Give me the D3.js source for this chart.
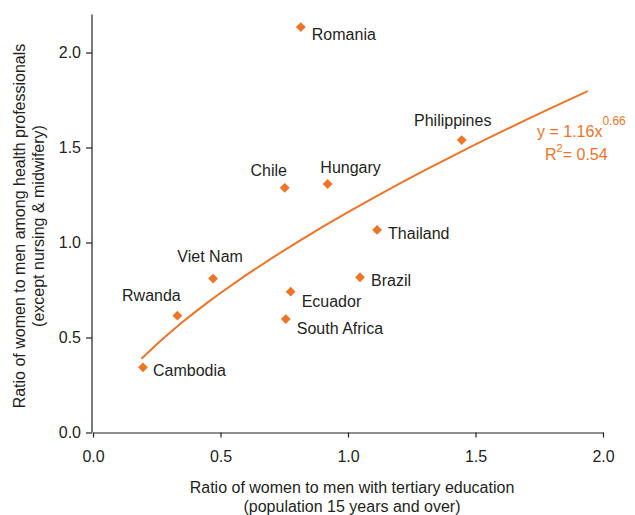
<!DOCTYPE html>
<html>
<head>
<meta charset="utf-8">
<script src="https://cdn.jsdelivr.net/npm/d3@7"></script>
<style>
  html, body { margin: 0; padding: 0; background: #fff; }
  svg text { font-family: "Liberation Sans", Arial, Helvetica, sans-serif; }
</style>
</head>
<body>
<svg id="chart" width="635" height="515"></svg>
<script>
// Countries and their ratios (women : men)
const countries = ["Romania", "Chile", "Hungary", "Philippines", "Thailand", "Viet Nam",
                   "Rwanda", "Cambodia", "Ecuador", "South Africa", "Brazil"];
const tertiaryRatio = [0.815, 0.752, 0.920, 1.446, 1.114, 0.471, 0.331, 0.196, 0.775, 0.756, 1.047];
const healthRatio   = [2.134, 1.288, 1.308, 1.539, 1.066, 0.810, 0.615, 0.343, 0.741, 0.597, 0.817];

// Power trend line y = a * x^b, as stated in the label
const trendA = 1.16;
const trendB = 0.66;
const trendR2 = 0.54;
const trendXs = [0.19, 0.25, 0.3, 0.35, 0.4, 0.45, 0.5, 0.6, 0.7, 0.8, 0.9, 1.0, 1.1, 1.2,
                 1.3, 1.4, 1.5, 1.6, 1.7, 1.8, 1.9, 1.94];

const xTicks = [0, 0.5, 1.0, 1.5, 2.0];
const yTicks = [0, 0.5, 1.0, 1.5, 2.0];

// Label placement relative to each marker (baseline offsets): [dx, dy, anchor]
const labelPos = {
  "Romania":      [11, 13, "start"],
  "Chile":        [-16, -12, "middle"],
  "Hungary":      [23, -11, "middle"],
  "Philippines":  [-9, -14, "middle"],
  "Thailand":     [11, 9, "start"],
  "Viet Nam":     [-3, -17, "middle"],
  "Rwanda":       [-26, -15, "middle"],
  "Cambodia":     [10, 8.5, "start"],
  "Ecuador":      [11, 15.5, "start"],
  "South Africa": [11, 15, "start"],
  "Brazil":       [11, 8.5, "start"]
};

const orange = "#EF7426";
const ink = "#231f20";
const fs = "16px";

const svg = d3.select("#chart");
const x = d3.scaleLinear().domain([0, 2.0]).range([93, 603]);
const y = d3.scaleLinear().domain([0, 2.2]).range([432.5, 14.5]);

// Axes
const xAxis = svg.append("g")
  .attr("transform", `translate(0,${y(0)})`)
  .call(d3.axisBottom(x).tickValues(xTicks).tickFormat(d3.format(".1f")).tickSize(5).tickSizeOuter(0).tickPadding(13));
const yAxis = svg.append("g")
  .attr("transform", `translate(${x(0) - 1},0)`)
  .call(d3.axisLeft(y).tickValues(yTicks).tickFormat(d3.format(".1f")).tickSize(6).tickSizeOuter(0).tickPadding(5));

[xAxis, yAxis].forEach(g => {
  g.select(".domain").attr("stroke", ink).attr("stroke-width", 1.2);
  g.selectAll(".tick line").attr("stroke", ink).attr("stroke-width", 1.2);
  g.selectAll(".tick text").attr("fill", ink).style("font-size", fs);
});
// extend the y axis line to the top of its range
yAxis.select(".domain").attr("d", `M0,${y(0)}V${y(2.2)}`);

// Axis titles
const xt = svg.append("text").attr("text-anchor", "middle").attr("fill", ink).style("font-size", fs);
xt.append("tspan").attr("x", 352).attr("y", 493).text("Ratio of women to men with tertiary education");
xt.append("tspan").attr("x", 352).attr("y", 512).text("(population 15 years and over)");

const yt = svg.append("text").attr("text-anchor", "middle").attr("fill", ink).style("font-size", fs)
  .attr("transform", "translate(0,226) rotate(-90)");
yt.append("tspan").attr("x", 0).attr("y", 25).text("Ratio of women to men among health professionals");
yt.append("tspan").attr("x", 0).attr("y", 44).text("(except nursing & midwifery)");

// Trend line
const line = d3.line()
  .x(d => x(d))
  .y(d => y(trendA * Math.pow(d, trendB)));
svg.append("path")
  .datum(trendXs)
  .attr("d", line)
  .attr("fill", "none")
  .attr("stroke", orange)
  .attr("stroke-width", 2);

// Trend equation
const eq = svg.append("text").attr("fill", orange).style("font-size", fs);
eq.append("tspan").attr("x", 537).attr("y", 136.5).text(`y = ${trendA.toFixed(2)}x`);
eq.append("tspan").attr("dy", -12).style("font-size", "12px").text(trendB.toFixed(2));
const r2 = svg.append("text").attr("fill", orange).style("font-size", fs).attr("x", 545).attr("y", 159.5);
r2.append("tspan").text("R");
r2.append("tspan").attr("dy", -8).style("font-size", "11px").text("2");
r2.append("tspan").attr("dy", 8).text(`= ${trendR2.toFixed(2)}`);

// Points
const pts = countries.map((c, i) => ({ name: c, xv: tertiaryRatio[i], yv: healthRatio[i] }));
const symbol = d3.symbol().type(d3.symbolSquare).size(48);
const g = svg.append("g");
g.selectAll("path.pt").data(pts).enter().append("path")
  .attr("class", "pt")
  .attr("d", symbol)
  .attr("fill", orange)
  .attr("transform", d => `translate(${x(d.xv)},${y(d.yv)}) rotate(45)`);

g.selectAll("text.lbl").data(pts).enter().append("text")
  .attr("class", "lbl")
  .attr("x", d => x(d.xv) + labelPos[d.name][0])
  .attr("y", d => y(d.yv) + labelPos[d.name][1])
  .attr("text-anchor", d => labelPos[d.name][2])
  .attr("fill", ink)
  .style("font-size", fs)
  .text(d => d.name);
</script>
</body>
</html>
